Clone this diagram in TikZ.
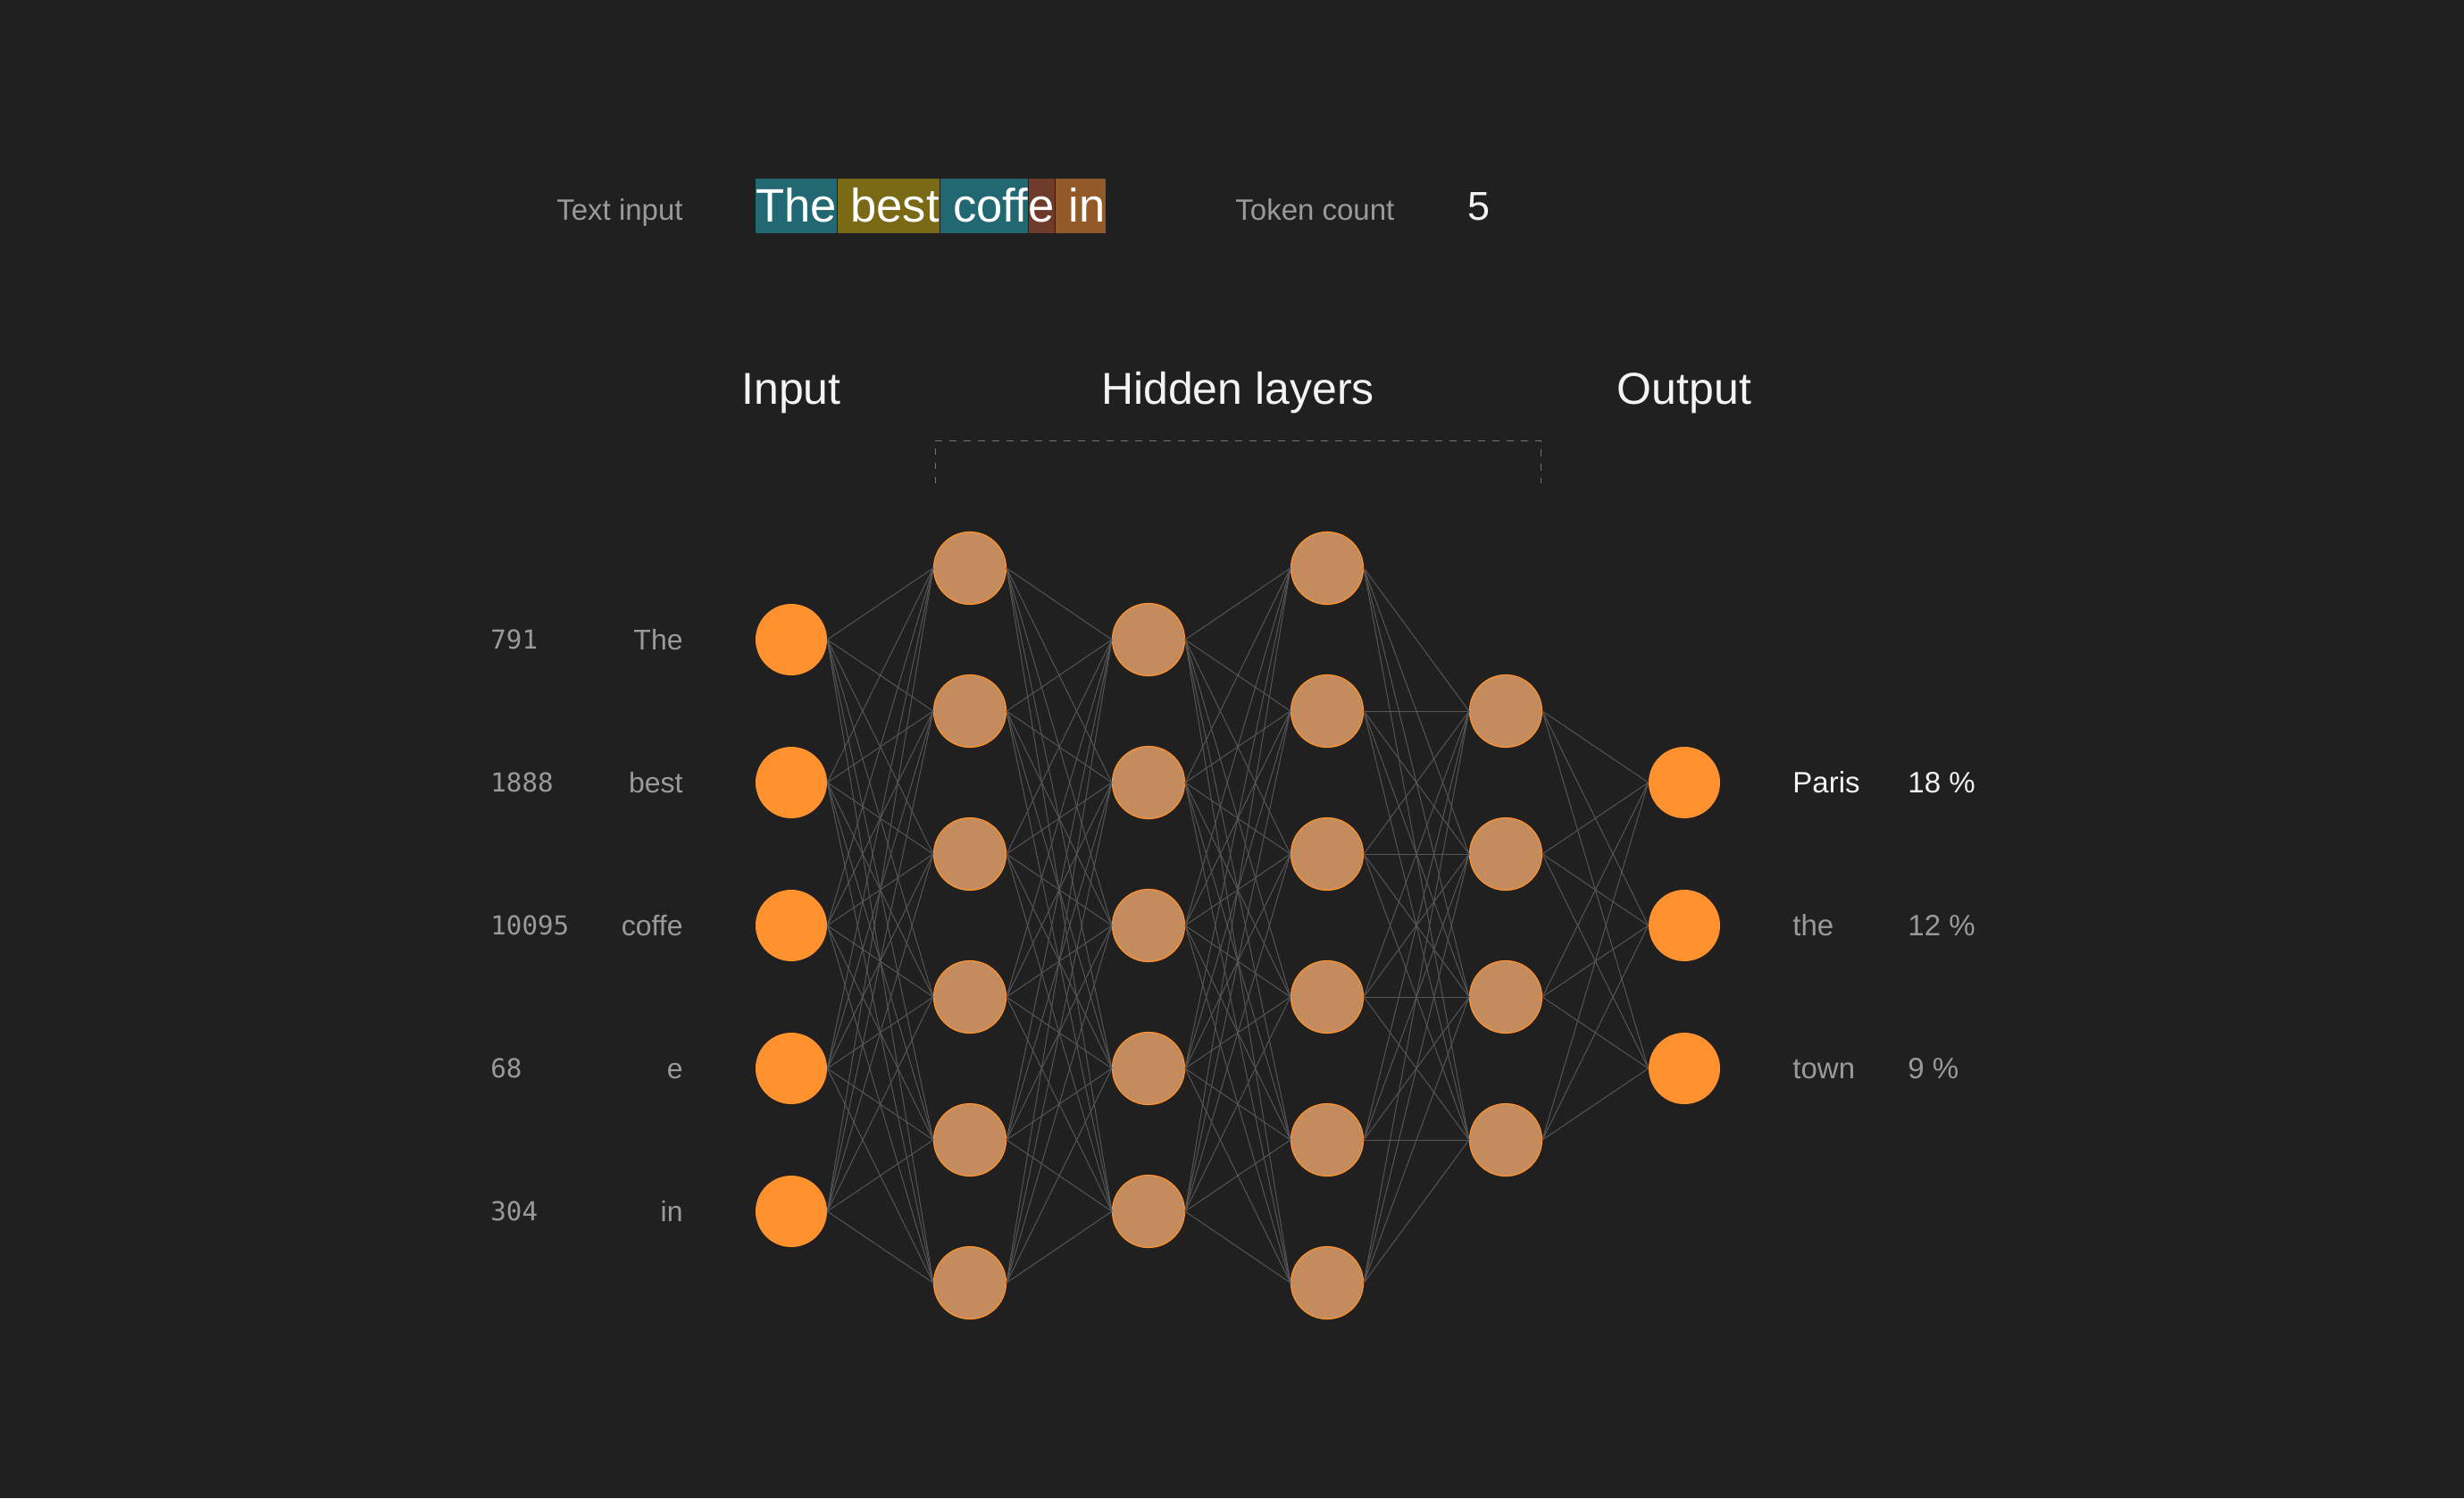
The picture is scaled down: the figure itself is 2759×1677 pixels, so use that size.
\documentclass[tikz,border=0pt]{standalone}
\usepackage{fontspec}
\setmainfont{Liberation Sans}
\setmonofont{DejaVu Sans Mono}
\usetikzlibrary{positioning}
\definecolor{bg}{HTML}{202020}
\definecolor{neuronorange}{HTML}{FF922E}
\definecolor{neurontan}{HTML}{C48C5C}
\definecolor{wiregray}{HTML}{565656}
\definecolor{labelgray}{HTML}{9A9A9A}
\definecolor{labelwhite}{HTML}{F4F4F4}
\definecolor{tokteal}{HTML}{226873}
\definecolor{tokolive}{HTML}{7A6A16}
\definecolor{tokred}{HTML}{6E3A2A}
\definecolor{tokbrown}{HTML}{925A28}
\tikzset{
        neuron/.style={circle, inner sep=0pt, minimum size=40pt, fill=neuronorange},
        hiddenunit/.style={circle, inner sep=0pt, minimum size=40.5pt, fill=neurontan, draw=neuronorange, line width=0.6pt},
        link/.style={draw=wiregray, line width=0.5pt},
        bracket/.style={draw=labelgray!70!bg, line width=0.5pt, dash pattern=on 3.75pt off 4.25pt},
        smalllabel/.style={inner sep=0pt, text=labelgray, font=\fontsize{16.5}{18}\selectfont, text height=11.6pt, text depth=0pt},
        tokenid/.style={inner sep=0pt, text=labelgray, font=\ttfamily\fontsize{14.6}{18}\selectfont, text height=10.6pt, text depth=0pt},
        layertitle/.style={inner sep=0pt, text=labelwhite, font=\fontsize{25}{30}\selectfont, text height=17.5pt, text depth=0pt},
        token/.style={inner sep=0pt, minimum height=30.5pt, text=white, font=\fontsize{26.3}{30}\selectfont, text height=18.4pt, text depth=0pt},
        countvalue/.style={inner sep=0pt, text=labelwhite, font=\fontsize{22.5}{26}\selectfont, text height=15.8pt, text depth=0pt}
          }
\begin{document}
\begin{tikzpicture}[x=0.5pt, y=-0.5pt]
        \fill[bg] (0,0) rectangle (2759,1677);
        \useasboundingbox (0,0) rectangle (2759,1677);
        \node[smalllabel, anchor=east] (textinput) at (765,235) {Text input};
        \node[token, fill=tokteal, anchor=west] (tokThe) at (846,230.5) {The};
        \node[token, fill=tokolive, right=0pt of tokThe] (tokBest) {\ best};
        \node[token, fill=tokteal, right=0pt of tokBest] (tokCoff) {\ coff};
        \node[token, fill=tokred, right=0pt of tokCoff] (tokE) {e};
        \node[token, fill=tokbrown, right=0pt of tokE] (tokIn) {\ in};
        \node[smalllabel, anchor=west] (tokencount) at (1383,235) {Token count};
        \node[countvalue] (count) at (1656,231) {5};
        \node[layertitle] (titleIn) at (886,435) {Input};
        \node[layertitle] (titleHidden) at (1386,435) {Hidden layers};
        \node[layertitle] (titleOut) at (1886,435) {Output};
        \draw[bracket] (1047,541) -- (1047,493) -- (1725,493) -- (1725,541);
        \foreach \c/\kind [count=\l] in {5/neuron,6/hiddenunit,5/hiddenunit,6/hiddenunit,4/hiddenunit,3/neuron} {
          \foreach \k in {1,...,\c} {
            \node[\kind] (n\l-\k) at ({686+200*\l},{1036+(\k-(\c+1)/2)*160}) {};
          }
        }
        \foreach \l/\c/\d in {1/5/6,2/6/5,3/5/6,4/6/4,5/4/3} {
          \pgfmathtruncatemacro\nxt{\l+1}
          \foreach \k in {1,...,\c}
            \foreach \j in {1,...,\d}
              \draw[link] (n\l-\k.east) -- (n\nxt-\j.west);
        }
        \foreach \num/\word [count=\k] in {791/The,1888/best,10095/coffe,68/e,304/in} {
          \node[tokenid, anchor=west] (id\k) at (549,{556+160*\k}) {\num};
          \node[smalllabel, font=\fontsize{16}{18}\selectfont, anchor=east] (word\k) at (765,{556+160*\k}) {\word};
        }
        \foreach \word/\pct/\col [count=\k] in {Paris/18/labelwhite,the/12/labelgray,town/9/labelgray} {
          \node[smalllabel, text=\col, anchor=west] (out\k) at (2007,{716+160*\k}) {\word};
          \node[smalllabel, text=\col, anchor=west] (pct\k) at (2136,{716+160*\k}) {\pct\ \%};
        }
\end{tikzpicture}
\end{document}
